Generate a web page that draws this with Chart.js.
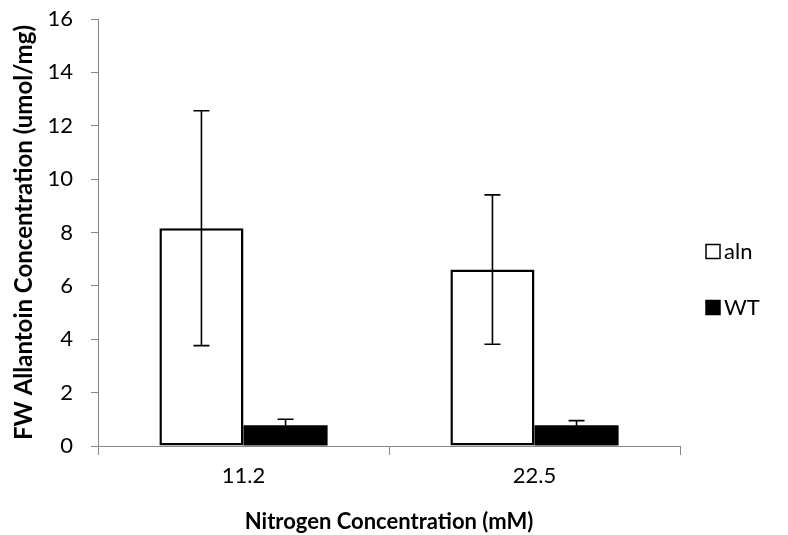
<!DOCTYPE html>
<html>
<head>
<meta charset="utf-8">
<script src="https://cdn.jsdelivr.net/npm/chart.js@4/dist/chart.umd.min.js"></script>
<style>
  html, body { margin: 0; padding: 0; background: #fff; }
  #wrap { width: 788px; height: 535px; }
</style>
</head>
<body>
<div id="wrap"><canvas id="chart-host"></canvas></div>
<script>
// values
var categories = ['11.2', '22.5'];
var alnMeans = [8.16, 6.61];
var alnErrors = [4.40, 2.80];
var wtMeans = [0.78, 0.78];
var wtErrors = [0.22, 0.17];
var yTicks = [0, 2, 4, 6, 8, 10, 12, 14, 16];

var fontName = 'Lato, "Open Sans", sans-serif';
var axisGray = 'rgb(134, 134, 134)';

// draws the +/- error whiskers on top of each bar
var errorBars = {
    id: 'errorBars',
    afterDatasetsDraw: function (chart) {
        var ctx = chart.ctx;
        var yScale = chart.scales.y;
        chart.data.datasets.forEach(function (ds, i) {
            var meta = chart.getDatasetMeta(i);
            meta.data.forEach(function (bar, j) {
                var v = ds.data[j];
                var e = ds.errors[j];
                var top = yScale.getPixelForValue(v + e);
                var bottom = yScale.getPixelForValue(v - e);
                ctx.save();
                ctx.strokeStyle = '#000';
                ctx.lineWidth = 1.6;
                ctx.beginPath();
                ctx.moveTo(bar.x, top);
                ctx.lineTo(bar.x, bottom);
                ctx.moveTo(bar.x - 8, top);
                ctx.lineTo(bar.x + 8, top);
                ctx.moveTo(bar.x - 8, bottom);
                ctx.lineTo(bar.x + 8, bottom);
                ctx.stroke();
                ctx.restore();
            });
        });
    }
};

// excel-style legend: small square right next to the label
var sideLegend = {
    id: 'sideLegend',
    afterDraw: function (chart) {
        var ctx = chart.ctx;
        var area = chart.chartArea;
        var x = area.right + 26;
        var midY = chart.height / 2 + 12;
        var step = 56;
        var n = chart.data.datasets.length;
        ctx.save();
        ctx.font = '22px ' + fontName;
        ctx.textBaseline = 'middle';
        chart.data.datasets.forEach(function (ds, i) {
            var y = midY + (i - (n - 1) / 2) * step;
            ctx.fillStyle = ds.backgroundColor;
            ctx.fillRect(x, y - 7, 14, 14);
            ctx.strokeStyle = '#000';
            ctx.lineWidth = 1.5;
            ctx.strokeRect(x, y - 7, 14, 14);
            ctx.fillStyle = '#000';
            ctx.fillText(ds.label, x + 18, y);
        });
        ctx.restore();
    }
};

new Chart(document.getElementById('chart-host'), {
    type: 'bar',
    data: {
        labels: categories,
        datasets: [
            {
                label: 'aln',
                data: alnMeans,
                errors: alnErrors,
                backgroundColor: '#fff',
                borderColor: '#000',
                borderWidth: 2.5,
                borderSkipped: false
            },
            {
                label: 'WT',
                data: wtMeans,
                errors: wtErrors,
                backgroundColor: '#000',
                borderColor: '#000',
                borderWidth: 0
            }
        ]
    },
    options: {
        responsive: true,
        maintainAspectRatio: false,
        animation: false,
        datasets: {
            bar: { categoryPercentage: 0.578, barPercentage: 1.0 }
        },
        layout: { padding: { top: 19, right: 108, left: 0, bottom: 0 } },
        plugins: {
            legend: { display: false },
            tooltip: { enabled: false }
        },
        scales: {
            x: {
                afterFit: function (axis) { axis.height = 89; },
                grid: {
                    drawOnChartArea: false,
                    drawTicks: true,
                    tickLength: 9,
                    color: axisGray,
                    offset: true
                },
                border: { color: axisGray, width: 1 },
                ticks: {
                    color: '#000',
                    font: { family: fontName, size: 22 },
                    padding: 8
                },
                title: {
                    display: true,
                    text: 'Nitrogen Concentration (mM)',
                    color: '#000',
                    font: { family: fontName, size: 22, weight: 'bold' },
                    padding: { top: 0, bottom: 0 }
                }
            },
            y: {
                min: 0,
                max: 16,
                afterFit: function (axis) {
                    axis.width = 98;
                    axis.paddingTop = 0;
                    axis.paddingBottom = 0;
                },
                afterBuildTicks: function (axis) {
                    axis.ticks = yTicks.map(function (v) { return { value: v }; });
                },
                grid: {
                    drawOnChartArea: false,
                    drawTicks: true,
                    tickLength: 7,
                    color: axisGray
                },
                border: { color: axisGray, width: 1 },
                ticks: {
                    color: '#000',
                    font: { family: fontName, size: 22 },
                    padding: 18
                },
                title: {
                    display: true,
                    text: 'FW Allantoin Concentration (umol/mg)',
                    color: '#000',
                    font: { family: fontName, size: 24, weight: 'bold' },
                    padding: { top: 10, bottom: 0 }
                }
            }
        }
    },
    plugins: [errorBars, sideLegend]
});
</script>
</body>
</html>
